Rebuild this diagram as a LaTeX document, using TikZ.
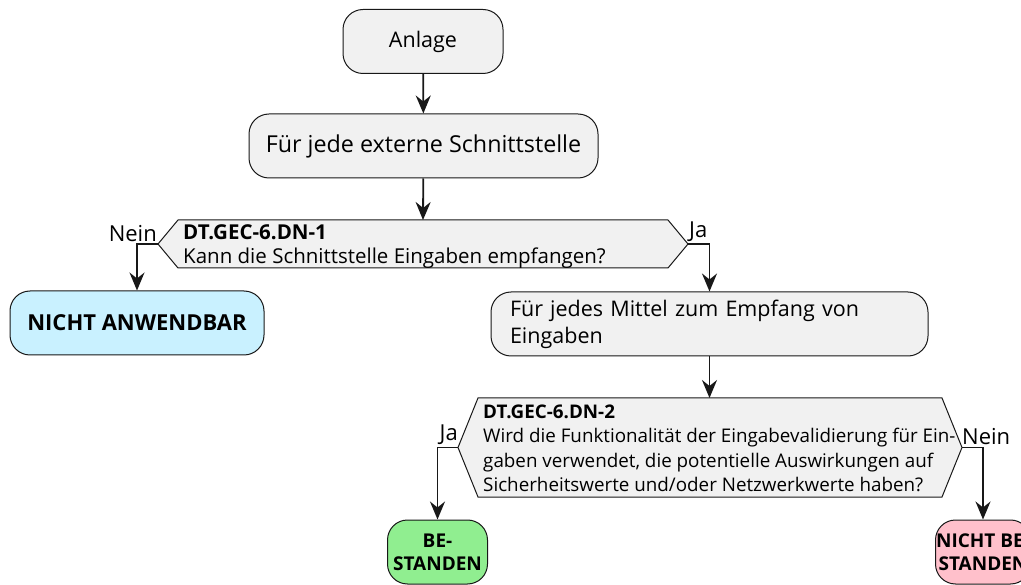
\documentclass[tikz,border=0pt]{standalone}
\usepackage{fontspec}
\setmainfont{Open Sans}
\usetikzlibrary{arrows.meta,positioning}
\definecolor{boxfill}{HTML}{F1F1F1}
\definecolor{boxline}{HTML}{181818}
\definecolor{nafill}{HTML}{C9F1FF}
\definecolor{okfill}{HTML}{90EE90}
\definecolor{kofill}{HTML}{FFC0CB}
\tikzset{
  act/.style={draw=boxline,fill=boxfill,line width=1pt,rounded corners=20pt,
    minimum height=64pt,inner sep=0pt,font=\fontsize{21.5}{27}\selectfont},
  endbox/.style={act,font=\fontsize{19}{23}\selectfont\bfseries,align=center},
  hexa/.style={draw=boxline,fill=boxfill,line width=1pt},
  frage/.style={anchor=west,align=left,inner sep=0pt},
  arr/.style={-{Stealth[length=18pt,width=15pt,inset=6pt]},line width=1.8pt,draw=boxline},
  lbl/.style={font=\fontsize{22}{26}\selectfont,inner sep=1pt}
}
\begin{document}
\begin{tikzpicture}[x=1pt,y=-1pt]
  \useasboundingbox (0,0) rectangle (1021,585);

  % actions
  \node[act,minimum width=160pt] (anlage) at (423,41.5) {Anlage};
  \node[act,minimum width=349pt,font=\fontsize{23.3}{27}\selectfont] (schnitt) at (423.5,146) {Für jede externe Schnittstelle};

  % erste Entscheidung
  \draw[hexa] (158,244) -- (178,220) -- (668,220) -- (688,244) -- (668,268) -- (178,268) -- cycle;
  \coordinate (h1t) at (423,220);
  \coordinate (h1l) at (158,244);
  \coordinate (h1r) at (688,244);
  \node[frage,font=\fontsize{20.5}{24}\selectfont] (q1) at (183,247)
    {\textbf{DT.GEC-6.DN-1}\\Kann die Schnittstelle Eingaben empfangen?};

  \node[endbox,minimum width=254pt,fill=nafill,font=\fontsize{22}{26}\selectfont\bfseries] (nab) at (137,323) {NICHT ANWENDBAR};
  \node[act,minimum width=437pt,align=left,text width=399pt] (mittel) at (709.5,324)
    {Für jedes Mittel zum Empfang von\\Eingaben};

  % zweite Entscheidung
  \draw[hexa] (458,447.5) -- (478,398) -- (942,398) -- (962,447.5) -- (942,497) -- (478,497) -- cycle;
  \coordinate (h2t) at (709.5,398);
  \coordinate (h2l) at (458,447.5);
  \coordinate (h2r) at (962,447.5);
  \node[frage,font=\fontsize{18.8}{24.5}\selectfont] (q2) at (483,448.5)
    {\textbf{DT.GEC-6.DN-2}\\Wird die Funktionalität der Eingabevalidierung für Ein-\\gaben verwendet, die potentielle Auswirkungen auf\\Sicherheitswerte und/oder Netzwerkwerte haben?};

  \node[endbox,minimum width=100pt,fill=okfill] (best) at (437.5,552) {BE-\\STANDEN};
  \node[endbox,minimum width=95pt,fill=kofill] (nbest) at (983,552) {NICHT BE-\\STANDEN};

  % Pfeile
  \draw[arr] (anlage) -- (schnitt);
  \draw[arr] (schnitt) -- (h1t);
  \draw[arr] (h1l) -| (nab);
  \draw[arr] (h1r) -| (mittel);
  \draw[arr] (mittel) -- (h2t);
  \draw[arr] (h2l) -| (best);
  \draw[arr] (h2r) -| (nbest);

  % Beschriftungen
  \node[lbl,anchor=south east] (nein1) at (158,243) {Nein};
  \node[lbl,anchor=south west] (ja1) at (688,243) {Ja};
  \node[lbl,anchor=south east] (ja2) at (459,446) {Ja};
  \node[lbl,anchor=south west] (nein2) at (961,446) {Nein};
\end{tikzpicture}
\end{document}
